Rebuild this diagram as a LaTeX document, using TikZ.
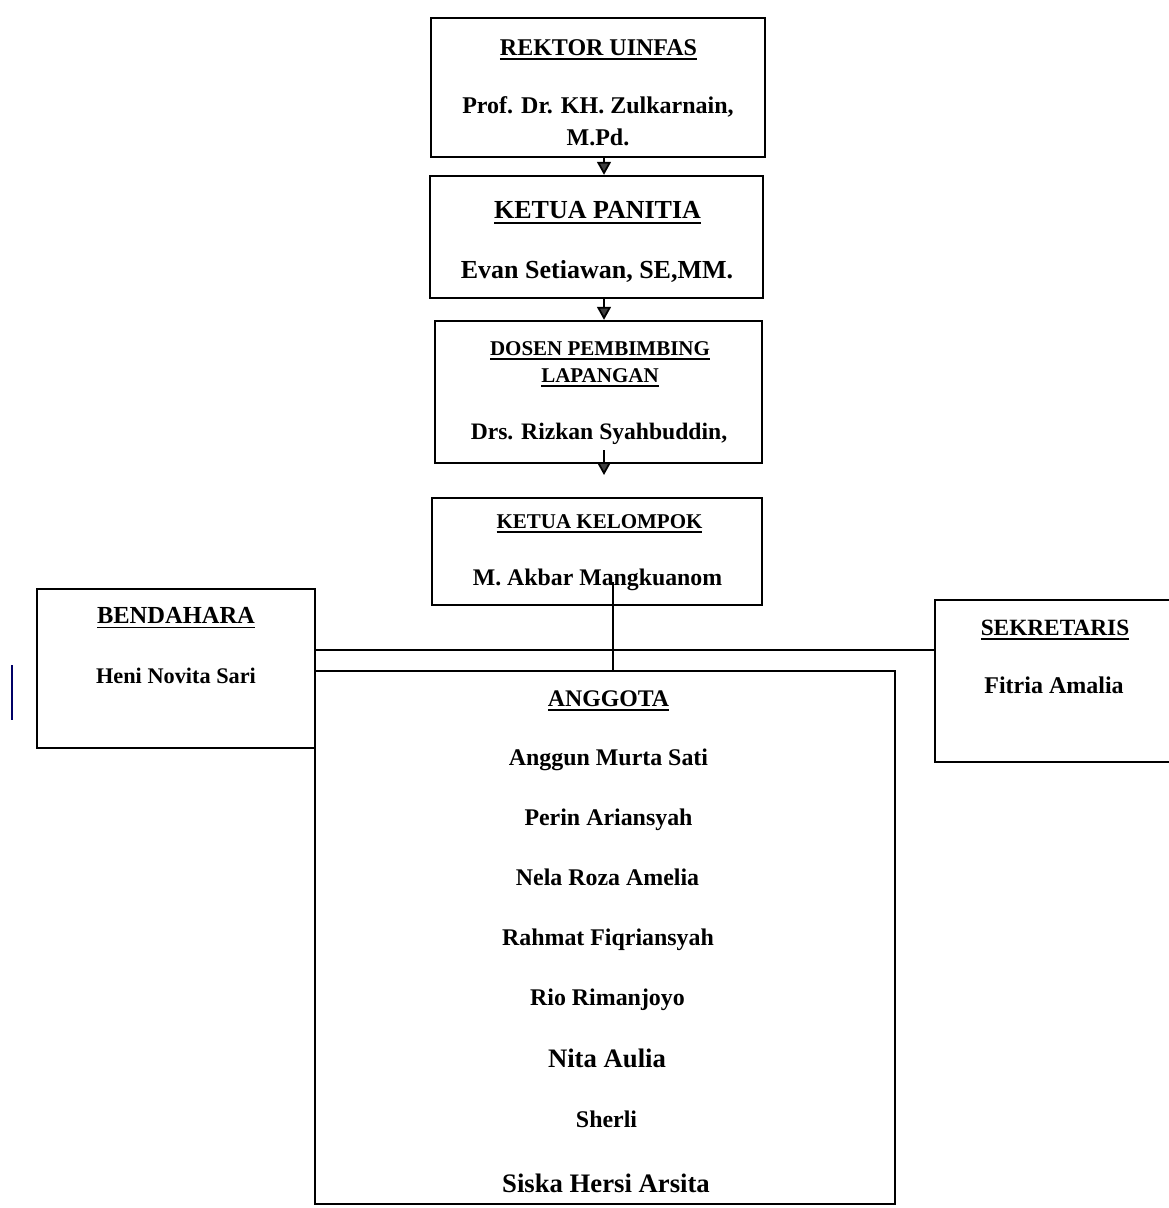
\documentclass[tikz,border=0pt]{standalone}
\usepackage{fontspec}
\setmainfont{Liberation Serif}
\usetikzlibrary{arrows.meta}
\newcommand\ulx[1]{\setbox0\hbox{#1}\rlap{\rule[-0.22em]{\wd0}{0.075em}}\box0}
\newcommand\fs[1]{\fontsize{#1}{#1}\selectfont\bfseries}
\tikzset{
  box/.style={draw, line width=2.4pt, rectangle, inner sep=0pt},
  txt/.style={inner sep=0pt, anchor=base, text=black},
  link/.style={draw, line width=2.4pt},
  arr/.style={draw, line width=1.8pt, -{Triangle[length=13pt,width=14pt,fill=black!75]}},
}
\begin{document}
\begin{tikzpicture}[x=1pt,y=-1pt]
\useasboundingbox[fill=white] (0,0) rectangle (1169,1208);
% boxes
\node[box, minimum width=334pt, minimum height=139pt] (R) at (598,87.5) {};
\node[box, minimum width=333pt, minimum height=122pt] (P) at (596.5,237) {};
\node[box, minimum width=327pt, minimum height=142pt] (D) at (598.5,392) {};
\node[box, minimum width=330pt, minimum height=107pt] (K) at (597,551.5) {};
\node[box, minimum width=278pt, minimum height=159pt] (B) at (176,668.5) {};
\node[box, minimum width=250pt, minimum height=162pt] (S) at (1060,681) {};
\node[box, minimum width=580pt, minimum height=533pt] (A) at (605,937.5) {};
% texts
\node[txt] (r1) at (598.5,55) {\fs{24}\ulx{REKTOR UINFAS}};
\node[txt] (r2) at (598,113) {\fs{24}Prof. Dr. KH. Zulkarnain,};
\node[txt] (r3) at (598,145) {\fs{24}M.Pd.};
\node[txt] (p1) at (597.5,218) {\fs{26}\ulx{KETUA PANITIA}};
\node[txt] (p2) at (597,278) {\fs{26}Evan Setiawan, SE,MM.};
\node[txt] (d1) at (600,355) {\fs{21}\ulx{DOSEN PEMBIMBING}};
\node[txt] (d2) at (600,382) {\fs{21}\ulx{LAPANGAN}};
\node[txt] (d3) at (599,439) {\fs{23.6}Drs. Rizkan Syahbuddin,};
\node[txt] (k1) at (599.5,528) {\fs{21}\ulx{KETUA KELOMPOK}};
\node[txt] (k2) at (597.5,585) {\fs{23.8}M. Akbar Mangkuanom};
\node[txt] (b1) at (176,623) {\fs{24.5}\ulx{BENDAHARA}};
\node[txt] (b2) at (176,683) {\fs{22.3}Heni Novita Sari};
\node[txt] (s1) at (1055,635) {\fs{23.3}\ulx{SEKRETARIS}};
\node[txt] (s2) at (1054,693) {\fs{24}Fitria Amalia};
\node[txt] (a0) at (608.5,706) {\fs{23.8}\ulx{ANGGOTA}};
\node[txt] (a1) at (608.5,765) {\fs{23.9}Anggun Murta Sati};
\node[txt] (a2) at (608.5,825) {\fs{23.9}Perin Ariansyah};
\node[txt] (a3) at (607.5,885) {\fs{23.9}Nela Roza Amelia};
\node[txt] (a4) at (608,945) {\fs{23.9}Rahmat Fiqriansyah};
\node[txt] (a5) at (607.5,1005) {\fs{23.9}Rio Rimanjoyo};
\node[txt] (a6) at (607,1067) {\fs{26.7}Nita Aulia};
\node[txt] (a7) at (606.5,1127) {\fs{23.9}Sherli};
\node[txt] (a8) at (606,1192) {\fs{26.7}Siska Hersi Arsita};
% connectors
\coordinate (ax) at (604,0);
\coordinate (start3) at (604,450);
\coordinate (end3) at (604,475);
\draw[arr] (R.south -| ax) -- (P.north -| ax);
\draw[arr] (P.south -| ax) -- (D.north -| ax);
\draw[arr] (start3) -- (end3);
\coordinate (hl) at (0,650);
\draw[link] (B.east |- hl) -- (S.west |- hl);
\coordinate (kv) at (613,582);
\draw[link] (kv) -- (kv |- A.north);
% stray mark
\coordinate (m1) at (12,665);
\coordinate (m2) at (12,720);
\draw[line width=1.6pt, color=blue!40!black] (m1) -- (m2);
\end{tikzpicture}
\end{document}
